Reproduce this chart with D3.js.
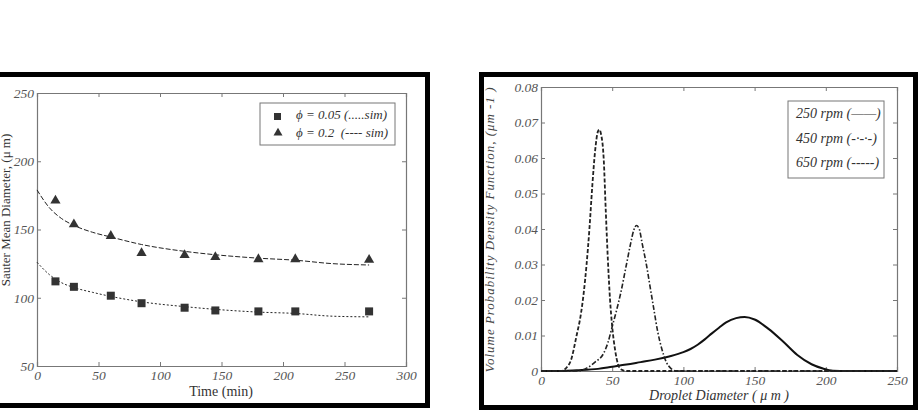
<!DOCTYPE html>
<html>
<head>
<meta charset="utf-8">
<script src="https://cdn.jsdelivr.net/npm/d3@7"></script>
<style>
  body { margin: 0; background: #fff; }
  svg text { font-family: "Liberation Serif", "DejaVu Serif", serif; }
  .tick line, .domain { stroke: #777; }
</style>
</head>
<body>
<div id="chart"></div>
<script>
// ---- left panel data : Sauter mean diameter vs time ----
var expTime = [15, 30, 60, 85, 120, 145, 180, 210, 270];
var expLow = [112, 108, 101.5, 96, 92.7, 90.7, 90, 90, 90];       // phi = 0.05
var expHigh = [170.5, 153, 144.5, 132, 130.5, 129, 127.5, 127.5, 127]; // phi = 0.2

var simTime = [0, 10, 20, 30, 45, 60, 85, 120, 145, 180, 210, 240, 270];
var simLow = [126, 117, 111, 107.5, 104, 101, 97, 93.5, 91.5, 89.5, 88.5, 86.5, 86];
var simHigh = [179, 166, 158, 153, 148, 144.5, 139, 134, 131.5, 129, 127.5, 125, 124];

var timeTicks = [0, 50, 100, 150, 200, 250, 300];
var smdTicks = [50, 100, 150, 200, 250];

// ---- right panel data : volume probability density ----
var d650 = [0, 14, 18, 21, 25, 28, 30, 32, 34, 36, 38, 40, 41, 42, 44, 45.5, 47, 48.5, 50, 52, 54, 56, 60, 250];
var p650 = [0, 0, 0.001, 0.003, 0.01, 0.016, 0.022, 0.03, 0.04, 0.052, 0.062, 0.0675, 0.068, 0.067, 0.06, 0.045, 0.031, 0.02, 0.0125, 0.006, 0.002, 0.0005, 0, 0];

var d450 = [0, 25, 32, 38, 44, 47, 50, 53, 56, 60, 63, 65, 67, 69, 71, 74, 76.5, 79, 82, 85, 88, 91, 95, 250];
var p450 = [0, 0, 0.0008, 0.0025, 0.005, 0.008, 0.0125, 0.017, 0.022, 0.03, 0.036, 0.0395, 0.041, 0.04, 0.036, 0.03, 0.024, 0.018, 0.011, 0.006, 0.0025, 0.0008, 0, 0];

var d250 = [0, 15, 25, 40, 50, 60, 70, 80, 90, 100, 105, 110, 115, 120, 125, 130, 137, 143, 150, 160, 170, 180, 190, 198, 205, 215, 250];
var p250 = [0, 0, 0.0002, 0.0006, 0.0012, 0.0018, 0.0025, 0.0032, 0.0041, 0.0053, 0.0062, 0.0074, 0.0089, 0.0106, 0.0122, 0.0137, 0.0149, 0.0152, 0.0145, 0.0118, 0.0083, 0.0045, 0.0019, 0.0007, 0.0001, 0, 0];

var diamTicks = [0, 50, 100, 150, 200, 250];
var densTicks = [0, 0.01, 0.02, 0.03, 0.04, 0.05, 0.06, 0.07, 0.08];

var svg = d3.select("#chart")
  .append("svg")
  .attr("width", 919)
  .attr("height", 410);

// thick frames round both panels
svg.append("rect")
  .attr("x", -10).attr("y", 74.5)
  .attr("width", 437.5).attr("height", 331)
  .attr("fill", "none").attr("stroke", "#000").attr("stroke-width", 5);

svg.append("rect")
  .attr("x", 481.5).attr("y", 74.5)
  .attr("width", 434).attr("height", 333)
  .attr("fill", "none").attr("stroke", "#000").attr("stroke-width", 5);

// helper: axes with inward ticks on all four sides
function drawBox(g, x, y, xTicks, yTicks, yFmt, xFmt) {
  var w = x.range()[1], h = y.range()[0];
  var gx = g.append("g")
    .attr("transform", `translate(0, ${h})`)
    .call(d3.axisBottom(x).tickValues(xTicks).tickSize(-4).tickPadding(4).tickFormat(xFmt));
  var gy = g.append("g")
    .call(d3.axisLeft(y).tickValues(yTicks).tickSize(-4).tickPadding(3).tickFormat(yFmt));
  g.append("g")
    .call(d3.axisTop(x).tickValues(xTicks).tickSize(-4).tickFormat(""));
  g.append("g")
    .attr("transform", `translate(${w}, 0)`)
    .call(d3.axisRight(y).tickValues(yTicks).tickSize(-4).tickFormat(""));
  g.selectAll(".domain").attr("stroke-width", 1.2);
  [gx, gy].forEach(function(a) {
    a.selectAll(".tick text")
      .style("font-family", "'Liberation Serif', serif")
      .style("font-style", "italic")
      .style("font-size", "13.5px")
      .attr("fill", "#555");
  });
}

// ================= left panel =================
var left = svg.append("g").attr("transform", "translate(37, 93)");

var xTime = d3.scaleLinear().domain([0, 300]).range([0, 369]);
var ySmd = d3.scaleLinear().domain([50, 250]).range([273, 0]);

drawBox(left, xTime, ySmd, timeTicks, smdTicks, d3.format("d"), d3.format("d"));

var simLine = d3.line()
  .x(d => xTime(d[0]))
  .y(d => ySmd(d[1]))
  .curve(d3.curveMonotoneX);

left.append("path")
  .datum(d3.zip(simTime, simHigh))
  .attr("d", simLine)
  .attr("fill", "none").attr("stroke", "#222").attr("stroke-width", 1)
  .attr("stroke-dasharray", "5,2");

left.append("path")
  .datum(d3.zip(simTime, simLow))
  .attr("d", simLine)
  .attr("fill", "none").attr("stroke", "#222").attr("stroke-width", 1)
  .attr("stroke-dasharray", "2,2");

// experimental points
left.selectAll("rect.sq")
  .data(d3.zip(expTime, expLow))
  .enter()
  .append("rect")
  .classed("sq", true)
  .attr("x", d => xTime(d[0]) - 4)
  .attr("y", d => ySmd(d[1]) - 4)
  .attr("width", 8).attr("height", 8)
  .attr("fill", "#333");

var tri = d3.symbol().type(d3.symbolTriangle).size(45);
left.selectAll("path.tri")
  .data(d3.zip(expTime, expHigh))
  .enter()
  .append("path")
  .classed("tri", true)
  .attr("d", tri)
  .attr("transform", d => `translate(${xTime(d[0])}, ${ySmd(d[1]) - 1})`)
  .attr("fill", "#333");

// legend
left.append("rect")
  .attr("x", 223).attr("y", 10)
  .attr("width", 135).attr("height", 42)
  .attr("fill", "#fff").attr("stroke", "#777");
left.append("rect")
  .attr("x", 237).attr("y", 20)
  .attr("width", 7).attr("height", 7).attr("fill", "#333");
left.append("path")
  .attr("d", tri.size(35))
  .attr("transform", "translate(241, 40)")
  .attr("fill", "#333");
left.append("text")
  .attr("x", 259).attr("y", 26)
  .style("font-style", "italic").style("font-size", "13px").attr("fill", "#333")
  .text("\u03d5 = 0.05 (.....sim)");
left.append("text")
  .attr("x", 259).attr("y", 44)
  .style("font-style", "italic").style("font-size", "13px").attr("fill", "#333")
  .attr("xml:space", "preserve")
  .text("\u03d5 = 0.2  (---- sim)");

// axis titles
svg.append("text")
  .attr("transform", "translate(10, 210) rotate(-90)")
  .attr("text-anchor", "middle")
  .style("font-size", "13px").attr("fill", "#333")
  .text("Sauter Mean Diameter, (\u03bc m)");

svg.append("text")
  .attr("x", 221).attr("y", 396)
  .attr("text-anchor", "middle")
  .style("font-size", "14px").attr("fill", "#333")
  .text("Time (min)");

// ================= right panel =================
var right = svg.append("g").attr("transform", "translate(541, 87)");

var xDiam = d3.scaleLinear().domain([0, 250]).range([0, 356]);
var yDens = d3.scaleLinear().domain([0, 0.08]).range([284, 0]);

drawBox(right, xDiam, yDens, diamTicks, densTicks, d => d === 0 ? "0" : d3.format(".2f")(d), d3.format("d"));

var densLine = d3.line()
  .x(d => xDiam(d[0]))
  .y(d => yDens(d[1]))
  .curve(d3.curveMonotoneX);

right.append("path")
  .datum(d3.zip(d250, p250))
  .attr("d", densLine)
  .attr("fill", "none").attr("stroke", "#111").attr("stroke-width", 2);

right.append("path")
  .datum(d3.zip(d450, p450))
  .attr("d", densLine)
  .attr("fill", "none").attr("stroke", "#222").attr("stroke-width", 1.6)
  .attr("stroke-dasharray", "5,2,1.5,2");

right.append("path")
  .datum(d3.zip(d650, p650))
  .attr("d", densLine)
  .attr("fill", "none").attr("stroke", "#222").attr("stroke-width", 1.8)
  .attr("stroke-dasharray", "4,2");

// legend
right.append("rect")
  .attr("x", 247).attr("y", 14)
  .attr("width", 96).attr("height", 77)
  .attr("fill", "#fff").attr("stroke", "#777");

var rpmLabels = ["250 rpm (\u2014\u2014)", "450 rpm (-\u00b7-\u00b7-)", "650 rpm (-----)"];
right.selectAll("text.leg")
  .data(rpmLabels)
  .enter()
  .append("text")
  .classed("leg", true)
  .attr("x", 255)
  .attr("y", (d, i) => 31 + i * 24.5)
  .style("font-style", "italic").style("font-size", "14px").attr("fill", "#333")
  .text(d => d);

// axis titles
svg.append("text")
  .attr("transform", "translate(494, 230) rotate(-90)")
  .attr("text-anchor", "middle")
  .attr("textLength", 285)
  .style("font-style", "italic").style("font-size", "13px").attr("fill", "#444")
  .text("Volume Probability Density Function, (\u03bcm -1 )");

svg.append("text")
  .attr("x", 719).attr("y", 400)
  .attr("text-anchor", "middle")
  .style("font-style", "italic").style("font-size", "14px").attr("fill", "#333")
  .text("Droplet Diameter ( \u03bc m )");
</script>
</body>
</html>
